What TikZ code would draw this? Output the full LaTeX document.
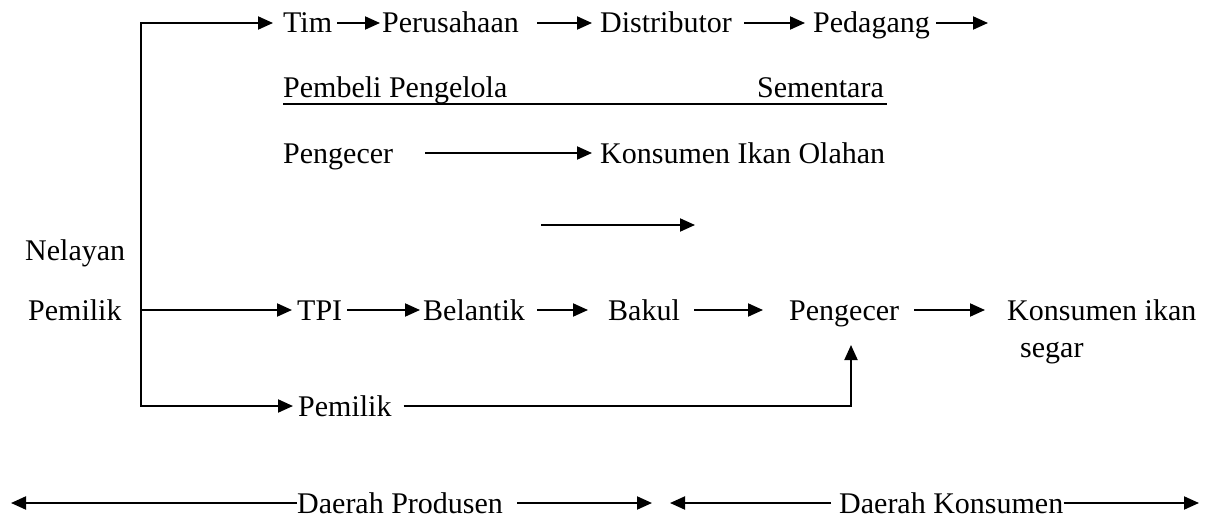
\documentclass[tikz,border=0pt]{standalone}
\usepackage{fontspec}
\setmainfont{Liberation Serif}
\usetikzlibrary{arrows.meta,positioning}
\tikzset{
  lbl/.style={inner sep=0pt, text height=20pt, text depth=0pt, anchor=west,
    font=\fontsize{30}{36}\selectfont},
  arr/.style={-{Triangle[length=15pt,width=13pt]}, line width=2pt},
}
\begin{document}
\begin{tikzpicture}[x=1pt, y=-1pt]
\useasboundingbox (0,0) rectangle (1205,519);
% jalur olahan
\node[lbl] (tim) at (283,23) {Tim};
\node[lbl] (prs) at (382,23) {Perusahaan};
\node[lbl] (dst) at (600,23) {Distributor};
\node[lbl] (pdg) at (813,23) {Pedagang};
\coordinate (pdgend) at (988,23);
\node[lbl] (pbl) at (283,87) {Pembeli Pengelola};
\node[lbl] (smt) at (757,87) {Sementara};
\node[lbl] (pgc1) at (283,153) {Pengecer};
\node[lbl] (kio) at (600,153) {Konsumen Ikan Olahan};
\coordinate (la) at (541,225);
\coordinate (lb) at (695,225);
% nelayan pemilik
\node[lbl] (nly) at (25,250) {Nelayan};
\node[lbl] (pmk) at (28,310) {Pemilik};
\coordinate (ctop) at (141,23);
\coordinate (cab) at (141,310);
\coordinate (cbot) at (141,406);
% jalur segar
\node[lbl] (tpi) at (297,310) {TPI};
\node[lbl] (blt) at (423,310) {Belantik};
\node[lbl] (bkl) at (608,310) {Bakul};
\node[lbl] (pgc2) at (789,310) {Pengecer};
\node[lbl] (kis) at (1007,310) {Konsumen ikan};
\node[lbl] (sgr) at (1020,347) {segar};
\node[lbl] (pmk2) at (298,406) {Pemilik};
\coordinate (naik) at (851,406);
% daerah
\node[lbl] (dpr) at (297,503) {Daerah Produsen};
\node[lbl] (dkn) at (839,503) {Daerah Konsumen};
\coordinate (b1) at (11,503);
\coordinate (b2) at (652,503);
\coordinate (b3) at (670,503);
\coordinate (b4) at (1199,503);

\draw[arr] (cbot) -- (ctop) -- ([xshift=-10pt]tim.west);
\draw[arr] (cab) -- ([xshift=-5pt]tpi.west);
\draw[arr, line cap=rect] (cbot) -- ([xshift=-5pt]pmk2.west);

\draw[arr] ([xshift=5pt]tim.east) -- ([xshift=-2pt]prs.west);
\draw[arr] ([xshift=18pt]prs.east) -- ([xshift=-8pt]dst.west);
\draw[arr] ([xshift=12pt]dst.east) -- ([xshift=-8pt]pdg.west);
\draw[arr] ([xshift=6pt]pdg.east) -- (pdgend);
\draw[line width=1.5pt] ([yshift=-7pt]pbl.south west) -- ([yshift=-7pt, xshift=3pt]smt.south east);
\draw[arr] ([xshift=32pt]pgc1.east) -- ([xshift=-8pt]kio.west);
\draw[arr] (la) -- (lb);

\draw[arr] ([xshift=5pt]tpi.east) -- ([xshift=-3pt]blt.west);
\draw[arr] ([xshift=12pt]blt.east) -- ([xshift=-20pt]bkl.west);
\draw[arr] ([xshift=14pt]bkl.east) -- ([xshift=-26pt]pgc2.west);
\draw[arr] ([xshift=15pt]pgc2.east) -- ([xshift=-22pt]kis.west);
\draw[arr] ([xshift=12pt]pmk2.east) -- (naik) -- (851,345);

\draw[arr] (dpr.west) -- (b1);
\draw[arr] ([xshift=14pt]dpr.east) -- (b2);
\draw[arr] ([xshift=-8pt]dkn.west) -- (b3);
\draw[arr] (dkn.east) -- (b4);
\end{tikzpicture}
\end{document}
